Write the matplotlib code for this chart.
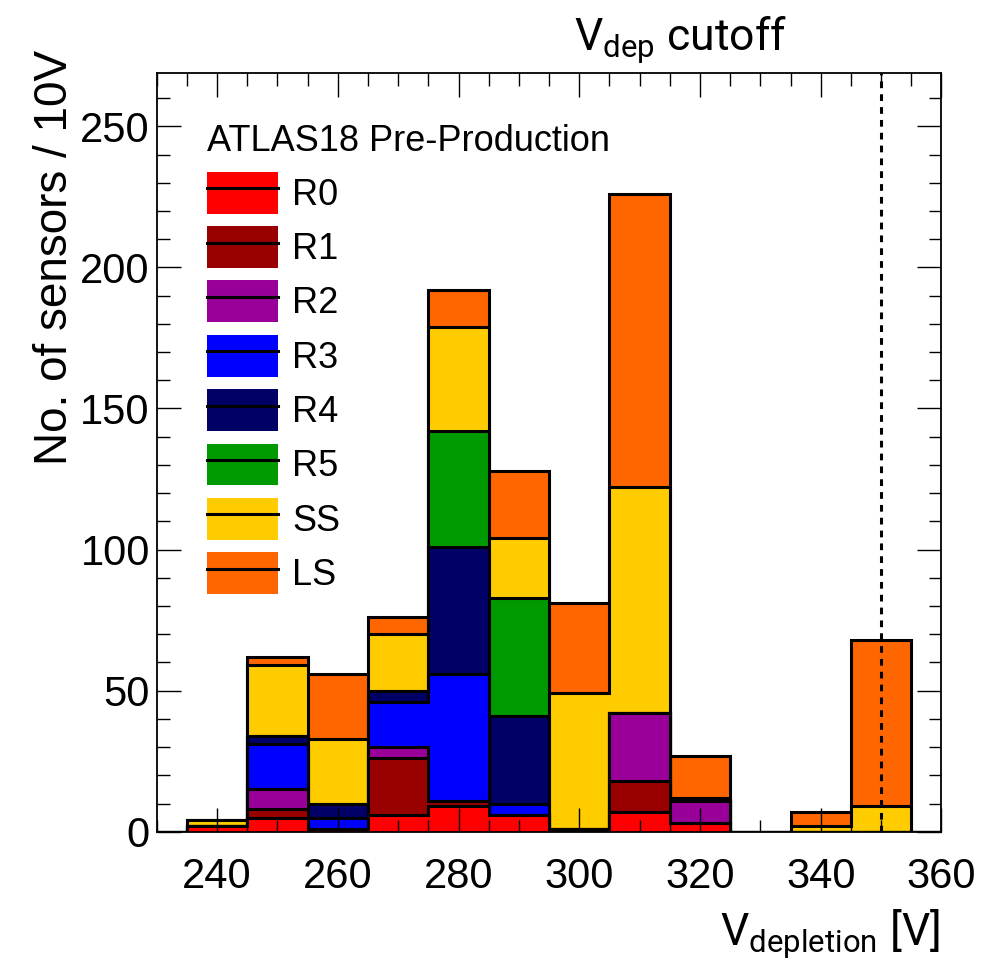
import matplotlib
matplotlib.use("Agg")
import matplotlib.pyplot as plt
from matplotlib import font_manager
from matplotlib.patches import Patch
from matplotlib.lines import Line2D
from matplotlib.ticker import MultipleLocator
import numpy as np

# bin edges 10 V wide, the two outer bins are empty
edges = [225, 235, 245, 255, 265, 275, 285, 295, 305, 315, 325, 335, 345, 355, 365]

# sensors per bin (235-245 ... 345-355), padded with empty outer bins
R0 = [0, 2, 5, 1, 6, 9, 6, 0, 7, 3, 0, 0, 0, 0]
R1 = [0, 0, 3, 0, 20, 2, 0, 0, 11, 0, 0, 0, 0, 0]
R2 = [0, 0, 7, 0, 4, 0, 0, 1, 24, 8, 0, 0, 0, 0]
R3 = [0, 0, 16, 4, 16, 45, 4, 0, 0, 0, 0, 0, 0, 0]
R4 = [0, 0, 3, 5, 4, 45, 31, 0, 0, 0, 0, 0, 0, 0]
R5 = [0, 0, 0, 0, 0, 41, 42, 0, 0, 0, 0, 0, 0, 0]
SS = [0, 2, 25, 23, 20, 37, 21, 48, 80, 1, 0, 2, 9, 0]
LS = [0, 0, 3, 23, 6, 13, 24, 32, 104, 15, 0, 5, 59, 0]

names = ["R0", "R1", "R2", "R3", "R4", "R5", "SS", "LS"]
colors = ["#ff0000", "#990000", "#990099", "#0000ff", "#000066", "#009900", "#ffcc00", "#ff6600"]
series = [R0, R1, R2, R3, R4, R5, SS, LS]

cutoff = 350

avail = set(f.name for f in font_manager.fontManager.ttflist)
narrow = "Liberation Sans Narrow" if "Liberation Sans Narrow" in avail else "Roboto"

plt.rcParams["font.family"] = ["Liberation Sans", "DejaVu Sans"]
plt.rcParams["mathtext.fontset"] = "custom"
plt.rcParams["mathtext.rm"] = narrow
plt.rcParams["mathtext.it"] = narrow

fig = plt.figure(figsize=(9.92, 9.64), dpi=100)
ax = fig.add_axes([0.158, 0.1372, 0.791, 0.7874])

# stack drawn like ROOT: full sum first, then each partial sum on top
cum = np.cumsum(np.array(series), axis=0)
for i in range(len(series) - 1, -1, -1):
    ax.stairs(cum[i], edges, fill=True, facecolor=colors[i],
              edgecolor="black", linewidth=2.2, baseline=0)

ax.axvline(cutoff, color="black", linestyle=(0, (2.2, 2.0)), linewidth=2.2)

ax.set_xlim(230, 360)
ax.set_ylim(0, 269)
ax.xaxis.set_major_locator(MultipleLocator(20))
ax.xaxis.set_minor_locator(MultipleLocator(5))
ax.yaxis.set_major_locator(MultipleLocator(50))
ax.yaxis.set_minor_locator(MultipleLocator(10))
ax.tick_params(which="both", direction="in", top=True, right=True, width=1.0)
ax.tick_params(which="major", length=17, labelsize=30)
ax.tick_params(which="minor", length=9)
ax.tick_params(axis="x", pad=18)
ax.tick_params(axis="y", pad=5)
for s in ax.spines.values():
    s.set_linewidth(1.3)

ax.text(-0.13, 1.03, "No. of sensors / 10V", rotation=90, fontsize=33,
        ha="center", va="top", transform=ax.transAxes)
fig.text(0.948, 0.0197, r"V$_{\mathrm{depletion}}$ [V]", fontsize=32,
         family=narrow, ha="right", va="baseline")
fig.text(0.686, 0.948, r"V$_{\mathrm{dep}}$ cutoff", fontsize=32,
         family=narrow, ha="center", va="baseline")

handles = [(Patch(facecolor=c, edgecolor="none"), Line2D([], [], color="black", lw=2.2))
           for c in colors]
leg = ax.legend(handles, names, title="ATLAS18 Pre-Production", loc="upper left",
                bbox_to_anchor=(0.023, 0.975), frameon=False, fontsize=26,
                title_fontsize=26, handlelength=1.95, handleheight=1.4,
                labelspacing=0.35, handletextpad=0.4, alignment="left")

fig.savefig("out.png", dpi=100)
